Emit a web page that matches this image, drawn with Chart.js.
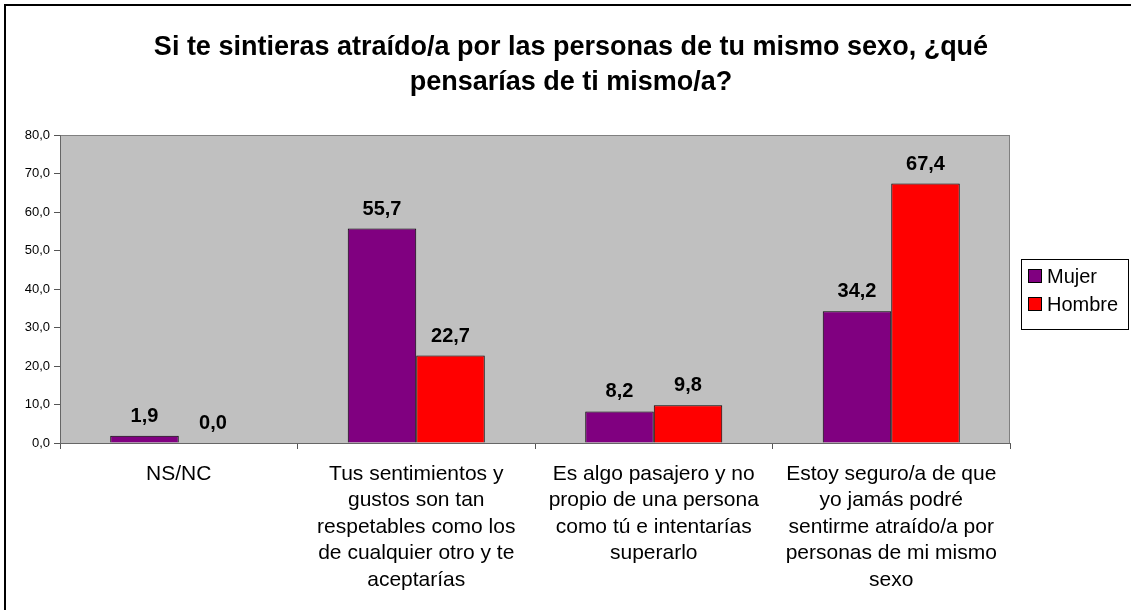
<!DOCTYPE html>
<html>
<head>
<meta charset="utf-8">
<script src="https://cdn.jsdelivr.net/npm/chart.js@4/dist/chart.umd.min.js"></script>
<style>
  body { margin: 0; background: #fff; }
  #wrap { width: 1131px; height: 610px; position: relative; }
</style>
</head>
<body>
<div id="wrap"><canvas id="myChart"></canvas></div>
<script>
// datos del gráfico
const categorias = [
    ['NS/NC'],
    ['Tus sentimientos y', 'gustos son tan', 'respetables como los', 'de cualquier otro y te', 'aceptarías'],
    ['Es algo pasajero y no', 'propio de una persona', 'como tú e intentarías', 'superarlo'],
    ['Estoy seguro/a de que', 'yo jamás podré', 'sentirme atraído/a por', 'personas de mi mismo', 'sexo']
];
const mujer = [1.9, 55.7, 8.2, 34.2];
const hombre = [0.0, 22.7, 9.8, 67.4];
const series = ['Mujer', 'Hombre'];
const titulo = ['Si te sintieras atraído/a por las personas de tu mismo sexo, ¿qué', 'pensarías de ti mismo/a?'];

const fmt = v => Number(v).toFixed(1).replace('.', ',');
const fuente = 'Arial, "Liberation Sans", sans-serif';

Chart.defaults.font.family = fuente;
Chart.defaults.color = '#000';

// fondo gris del área de trazado, marco exterior y título
const fondo = {
    id: 'fondo',
    beforeDraw(chart) {
        const { ctx, chartArea: a } = chart;
        ctx.save();
        ctx.fillStyle = '#fff';
        ctx.fillRect(0, 0, chart.width, chart.height);
        ctx.fillStyle = '#C0C0C0';
        ctx.fillRect(a.left, a.top, a.right - a.left, a.bottom - a.top);
        ctx.strokeStyle = '#808080';
        ctx.lineWidth = 1;
        ctx.strokeRect(a.left + 0.5, a.top + 0.5, a.right - a.left - 1, a.bottom - a.top);
        ctx.restore();
    },
    afterDraw(chart) {
        const ctx = chart.ctx;
        ctx.save();
        ctx.strokeStyle = '#000';
        ctx.lineWidth = 2;
        ctx.strokeRect(5, 5, 1140, 700);
        ctx.font = 'bold 27px ' + fuente;
        ctx.fillStyle = '#000';
        ctx.textAlign = 'center';
        ctx.textBaseline = 'alphabetic';
        titulo.forEach((t, i) => ctx.fillText(t, 571, 55 + i * 35));
        ctx.restore();
    }
};

// etiquetas de valor encima de las barras
const etiquetas = {
    id: 'etiquetas',
    afterDatasetsDraw(chart) {
        const ctx = chart.ctx;
        ctx.save();
        ctx.font = 'bold 20px ' + fuente;
        ctx.fillStyle = '#000';
        ctx.textAlign = 'center';
        ctx.textBaseline = 'alphabetic';
        chart.data.datasets.forEach((ds, i) => {
            chart.getDatasetMeta(i).data.forEach((bar, j) => {
                ctx.fillText(fmt(ds.data[j]), bar.x, bar.y - 14);
            });
        });
        ctx.restore();
    }
};

// leyenda con recuadro a la derecha
const leyenda = {
    id: 'leyenda',
    afterDraw(chart) {
        const ctx = chart.ctx;
        const x = 1021, y = 259, w = 107, h = 70;
        ctx.save();
        ctx.fillStyle = '#fff';
        ctx.fillRect(x, y, w, h);
        ctx.strokeStyle = '#000';
        ctx.lineWidth = 1;
        ctx.strokeRect(x + 0.5, y + 0.5, w, h);
        ctx.font = '20px ' + fuente;
        ctx.textBaseline = 'middle';
        chart.data.datasets.forEach((ds, i) => {
            const cy = 276 + i * 28;
            ctx.fillStyle = ds.backgroundColor;
            ctx.fillRect(1028.5, cy - 6.5, 13, 13);
            ctx.strokeStyle = '#000';
            ctx.strokeRect(1028.5, cy - 6.5, 13, 13);
            ctx.fillStyle = '#000';
            ctx.fillText(ds.label, 1047, cy + 1);
        });
        ctx.restore();
    }
};

new Chart(document.getElementById('myChart'), {
    type: 'bar',
    data: {
        labels: categorias,
        datasets: [
            { label: series[0], data: mujer, backgroundColor: '#800080', borderColor: '#000', borderWidth: 1 },
            { label: series[1], data: hombre, backgroundColor: '#FF0000', borderColor: '#000', borderWidth: 1 }
        ]
    },
    options: {
        responsive: true,
        maintainAspectRatio: false,
        animation: false,
        layout: { padding: { left: 0, right: 121, top: 135, bottom: 0 } },
        categoryPercentage: 0.577,
        barPercentage: 1,
        plugins: {
            legend: { display: false },
            tooltip: { enabled: false },
            title: { display: false }
        },
        scales: {
            x: {
                offset: true,
                grid: { offset: true, drawOnChartArea: false, tickLength: 6, color: '#555' },
                border: { color: '#666' },
                ticks: {
                    autoSkip: false, maxRotation: 0, minRotation: 0,
                    padding: 12,
                    font: { size: 21, lineHeight: 1.26 },
                    color: '#000'
                },
                afterFit(scale) { scale.height = 167; }
            },
            y: {
                min: 0,
                max: 80,
                grid: { drawOnChartArea: false, tickLength: 6, color: '#555' },
                border: { color: '#666' },
                ticks: {
                    stepSize: 10,
                    padding: 4,
                    font: { size: 13 },
                    color: '#000',
                    callback: v => fmt(v)
                },
                afterFit(scale) { scale.width = 60; }
            }
        }
    },
    plugins: [fondo, etiquetas, leyenda]
});
</script>
</body>
</html>
